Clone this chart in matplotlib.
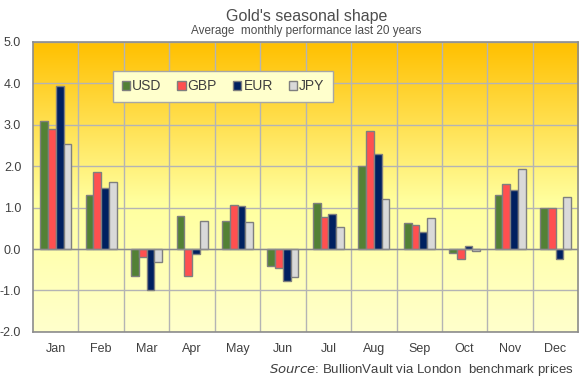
import numpy as np
import matplotlib.pyplot as plt
from matplotlib.colors import LinearSegmentedColormap
from matplotlib.patches import Patch

plt.rcParams['font.family'] = ['Liberation Sans', 'DejaVu Sans']

months = ["Jan", "Feb", "Mar", "Apr", "May", "Jun",
          "Jul", "Aug", "Sep", "Oct", "Nov", "Dec"]
series_names = ["USD", "GBP", "EUR", "JPY"]
usd = [3.10, 1.30, -0.65, 0.80, 0.68, -0.41, 1.10, 2.00, 0.62, -0.10, 1.30, 1.00]
gbp = [2.90, 1.85, -0.20, -0.65, 1.06, -0.47, 0.77, 2.85, 0.57, -0.25, 1.58, 1.00]
eur = [3.93, 1.48, -0.98, -0.12, 1.03, -0.78, 0.84, 2.30, 0.40, 0.07, 1.42, -0.25]
jpy = [2.54, 1.62, -0.31, 0.67, 0.65, -0.68, 0.53, 1.20, 0.76, -0.06, 1.94, 1.25]
colors = ["#538135", "#FF5050", "#002060", "#D9D9D9"]
y_ticks = [-2.0, -1.0, 0.0, 1.0, 2.0, 3.0, 4.0, 5.0]

fig = plt.figure(figsize=(5.8, 3.81), dpi=100)
ax = fig.add_axes([0.057, 0.129, 0.94, 0.761])

# gradient background
grad = LinearSegmentedColormap.from_list(
    "bg", [(0.0, "#FFFFCC"), (0.45, "#FFFF9E"), (1.0, "#FFC000")])
ax.imshow(np.linspace(0, 1, 256).reshape(-1, 1), cmap=grad, origin="lower",
          aspect="auto", extent=[-0.5, 11.5, -2, 5], zorder=0)

x = np.arange(len(months))
width = 0.17
for i, (vals, name) in enumerate(zip([usd, gbp, eur, jpy], series_names)):
    ax.bar(x + (i - 1.5) * width, vals, width, color=colors[i],
           edgecolor="#7F7F7F", linewidth=1.0, zorder=3, label=name)

ax.set_xlim(-0.5, 11.5)
ax.set_ylim(-2, 5)
ax.set_yticks(y_ticks)
ax.set_yticklabels([f"{v:.1f}" for v in y_ticks])
ax.set_xticks(x)
ax.set_xticklabels(months)
ax.tick_params(length=0, labelsize=9, colors="#404040", pad=8)
ax.tick_params(axis="y", pad=8.5)

for v in y_ticks:
    ax.axhline(v, color="#B4B4B4", linewidth=1.0, zorder=1)
for b in np.arange(0.5, 11.5, 1):
    ax.axvline(b, color="#B4B4B4", linewidth=1.0, zorder=1)
ax.axhline(0, color="#8C8C8C", linewidth=1.0, zorder=4)
for s in ax.spines.values():
    s.set_color("#8C8C8C")
    s.set_linewidth(1.2)

handles = [Patch(facecolor=c, edgecolor="#7F7F7F", label=n)
           for c, n in zip(colors, series_names)]
leg = ax.legend(handles=handles, ncol=4, loc="upper left",
                bbox_to_anchor=(0.147, 0.9), borderaxespad=0,
                frameon=True, fancybox=False,
                fontsize=10, handlelength=0.6, handleheight=0.6,
                handletextpad=0.15, columnspacing=1.15, borderpad=0.6,
                labelcolor="#404040")
leg.get_frame().set_facecolor("#FFFFCC")
leg.get_frame().set_edgecolor("#A6A6A6")
leg.get_frame().set_alpha(1)
leg.set_zorder(5)

fig.text(0.528, 0.958, "Gold's seasonal shape", ha="center", va="center",
         fontsize=11.5, color="#4D4D4D")
fig.text(0.528, 0.918, "Average  monthly performance last 20 years",
         ha="center", va="center", fontsize=8.5, color="#4D4D4D")
fig.text(0.99, 0.03, "$\\it{Source}$: BullionVault via London  benchmark prices",
         ha="right", va="center", fontsize=9.5, color="#404040")

fig.savefig("out.png", dpi=100)
